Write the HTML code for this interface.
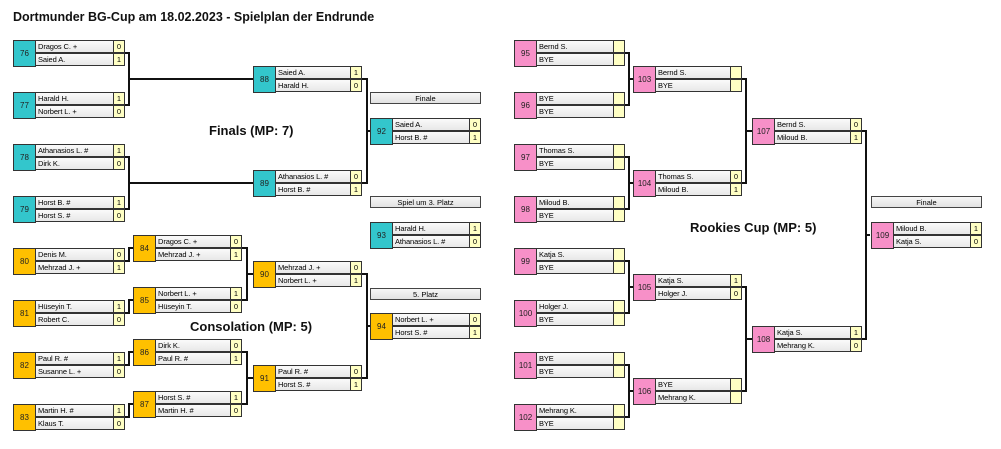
<!DOCTYPE html>
<html><head><meta charset="utf-8"><style>
body{margin:0;width:1001px;height:449px;background:#fff;position:relative;overflow:hidden;font-family:"Liberation Sans",sans-serif}
.m{position:absolute;height:26px}
.i{position:absolute;left:0;top:0;width:21px;height:25px;border:1px solid #333;font-size:8px;line-height:25px;text-align:center;color:#222}
.t{background:#33c6cc}.o{background:#ffc000}.p{background:#f790c8}
.n{position:absolute;height:12px;border:1px solid #333;background:linear-gradient(#fafafa,#e8e8e8);font-size:7.5px;line-height:12px;padding-left:2px;box-sizing:border-box;height:13px;white-space:nowrap;letter-spacing:-0.1px}
.s{position:absolute;height:13px;width:12px;border:1px solid #333;background:#ffffc4;font-size:7.5px;line-height:12px;text-align:center;box-sizing:border-box}
.lb{position:absolute;height:12px;border:1px solid #444;background:linear-gradient(#f6f6f6,#e2e2e2);font-size:7.5px;line-height:12px;text-align:center;box-sizing:border-box;width:111px}
.h{position:absolute;font-weight:bold;color:#111}
svg{position:absolute;left:0;top:0}
</style></head><body>
<div class="h" style="left:13px;top:10px;font-size:12.5px">Dortmunder BG-Cup am 18.02.2023 - Spielplan der Endrunde</div>
<div class="h" style="left:209px;top:123px;font-size:13px">Finals (MP: 7)</div>
<div class="h" style="left:190px;top:319px;font-size:13px">Consolation (MP: 5)</div>
<div class="h" style="left:690px;top:220px;font-size:13px">Rookies Cup (MP: 5)</div>
<svg width="1001" height="449"><g fill="none" stroke="#111" stroke-width="2">
<path d="M125 53H129V105H125M129 79H253"/>
<path d="M125 157H129V209H125M129 183H253"/>
<path d="M362 79H367V183H362M367 131H370"/>
<path d="M125 261H129V248H133M125 313H129V300H133M125 365H129V352H133M125 417H129V404H133"/>
<path d="M242 248H247V300H242M247 274H253M242 352H247V404H242M247 378H253"/>
<path d="M362 274H367V378H362M367 326H370"/>
<path d="M625 53H629V105H625M629 79H633M625 157H629V209H625M629 183H633M625 261H629V313H625M629 287H633M625 365H629V417H625M629 391H633"/>
<path d="M742 79H746V183H742M746 131H752M742 287H746V391H742M746 339H752"/>
<path d="M862 131H866V339H862M866 235H870"/>
</g></svg>

<!-- helper layout: id 22, name, score -->
<!-- Left round 1 -->
<div class="m" style="left:13px;top:40px"><div class="i t">76</div><div class="n" style="left:22px;top:0;width:79px">Dragos C. +</div><div class="s" style="left:100px;top:0">0</div><div class="n" style="left:22px;top:13px;width:79px">Saied A.</div><div class="s" style="left:100px;top:13px">1</div></div>
<div class="m" style="left:13px;top:92px"><div class="i t">77</div><div class="n" style="left:22px;top:0;width:79px">Harald H.</div><div class="s" style="left:100px;top:0">1</div><div class="n" style="left:22px;top:13px;width:79px">Norbert L. +</div><div class="s" style="left:100px;top:13px">0</div></div>
<div class="m" style="left:13px;top:144px"><div class="i t">78</div><div class="n" style="left:22px;top:0;width:79px">Athanasios L. #</div><div class="s" style="left:100px;top:0">1</div><div class="n" style="left:22px;top:13px;width:79px">Dirk K.</div><div class="s" style="left:100px;top:13px">0</div></div>
<div class="m" style="left:13px;top:196px"><div class="i t">79</div><div class="n" style="left:22px;top:0;width:79px">Horst B. #</div><div class="s" style="left:100px;top:0">1</div><div class="n" style="left:22px;top:13px;width:79px">Horst S. #</div><div class="s" style="left:100px;top:13px">0</div></div>
<div class="m" style="left:13px;top:248px"><div class="i o">80</div><div class="n" style="left:22px;top:0;width:79px">Denis M.</div><div class="s" style="left:100px;top:0">0</div><div class="n" style="left:22px;top:13px;width:79px">Mehrzad J. +</div><div class="s" style="left:100px;top:13px">1</div></div>
<div class="m" style="left:13px;top:300px"><div class="i o">81</div><div class="n" style="left:22px;top:0;width:79px">Hüseyin T.</div><div class="s" style="left:100px;top:0">1</div><div class="n" style="left:22px;top:13px;width:79px">Robert C.</div><div class="s" style="left:100px;top:13px">0</div></div>
<div class="m" style="left:13px;top:352px"><div class="i o">82</div><div class="n" style="left:22px;top:0;width:79px">Paul R. #</div><div class="s" style="left:100px;top:0">1</div><div class="n" style="left:22px;top:13px;width:79px">Susanne L. +</div><div class="s" style="left:100px;top:13px">0</div></div>
<div class="m" style="left:13px;top:404px"><div class="i o">83</div><div class="n" style="left:22px;top:0;width:79px">Martin H. #</div><div class="s" style="left:100px;top:0">1</div><div class="n" style="left:22px;top:13px;width:79px">Klaus T.</div><div class="s" style="left:100px;top:13px">0</div></div>
<!-- consolation r2 -->
<div class="m" style="left:133px;top:235px"><div class="i o">84</div><div class="n" style="left:22px;top:0;width:76px">Dragos C. +</div><div class="s" style="left:97px;top:0">0</div><div class="n" style="left:22px;top:13px;width:76px">Mehrzad J. +</div><div class="s" style="left:97px;top:13px">1</div></div>
<div class="m" style="left:133px;top:287px"><div class="i o">85</div><div class="n" style="left:22px;top:0;width:76px">Norbert L. +</div><div class="s" style="left:97px;top:0">1</div><div class="n" style="left:22px;top:13px;width:76px">Hüseyin T.</div><div class="s" style="left:97px;top:13px">0</div></div>
<div class="m" style="left:133px;top:339px"><div class="i o">86</div><div class="n" style="left:22px;top:0;width:76px">Dirk K.</div><div class="s" style="left:97px;top:0">0</div><div class="n" style="left:22px;top:13px;width:76px">Paul R. #</div><div class="s" style="left:97px;top:13px">1</div></div>
<div class="m" style="left:133px;top:391px"><div class="i o">87</div><div class="n" style="left:22px;top:0;width:76px">Horst S. #</div><div class="s" style="left:97px;top:0">1</div><div class="n" style="left:22px;top:13px;width:76px">Martin H. #</div><div class="s" style="left:97px;top:13px">0</div></div>
<!-- col 3 -->
<div class="m" style="left:253px;top:66px"><div class="i t">88</div><div class="n" style="left:22px;top:0;width:76px">Saied A.</div><div class="s" style="left:97px;top:0">1</div><div class="n" style="left:22px;top:13px;width:76px">Harald H.</div><div class="s" style="left:97px;top:13px">0</div></div>
<div class="m" style="left:253px;top:170px"><div class="i t">89</div><div class="n" style="left:22px;top:0;width:76px">Athanasios L. #</div><div class="s" style="left:97px;top:0">0</div><div class="n" style="left:22px;top:13px;width:76px">Horst B. #</div><div class="s" style="left:97px;top:13px">1</div></div>
<div class="m" style="left:253px;top:261px"><div class="i o">90</div><div class="n" style="left:22px;top:0;width:76px">Mehrzad J. +</div><div class="s" style="left:97px;top:0">0</div><div class="n" style="left:22px;top:13px;width:76px">Norbert L. +</div><div class="s" style="left:97px;top:13px">1</div></div>
<div class="m" style="left:253px;top:365px"><div class="i o">91</div><div class="n" style="left:22px;top:0;width:76px">Paul R. #</div><div class="s" style="left:97px;top:0">0</div><div class="n" style="left:22px;top:13px;width:76px">Horst S. #</div><div class="s" style="left:97px;top:13px">1</div></div>
<!-- col 4 -->
<div class="lb" style="left:370px;top:92px">Finale</div>
<div class="lb" style="left:370px;top:196px">Spiel um 3. Platz</div>
<div class="lb" style="left:370px;top:288px">5. Platz</div>
<div class="m" style="left:370px;top:118px"><div class="i t">92</div><div class="n" style="left:22px;top:0;width:78px">Saied A.</div><div class="s" style="left:99px;top:0">0</div><div class="n" style="left:22px;top:13px;width:78px">Horst B. #</div><div class="s" style="left:99px;top:13px">1</div></div>
<div class="m" style="left:370px;top:222px"><div class="i t">93</div><div class="n" style="left:22px;top:0;width:78px">Harald H.</div><div class="s" style="left:99px;top:0">1</div><div class="n" style="left:22px;top:13px;width:78px">Athanasios L. #</div><div class="s" style="left:99px;top:13px">0</div></div>
<div class="m" style="left:370px;top:313px"><div class="i o">94</div><div class="n" style="left:22px;top:0;width:78px">Norbert L. +</div><div class="s" style="left:99px;top:0">0</div><div class="n" style="left:22px;top:13px;width:78px">Horst S. #</div><div class="s" style="left:99px;top:13px">1</div></div>

<!-- Right bracket round 1 -->
<div class="m" style="left:514px;top:40px"><div class="i p">95</div><div class="n" style="left:22px;top:0;width:78px">Bernd S.</div><div class="s" style="left:99px;top:0"></div><div class="n" style="left:22px;top:13px;width:78px">BYE</div><div class="s" style="left:99px;top:13px"></div></div>
<div class="m" style="left:514px;top:92px"><div class="i p">96</div><div class="n" style="left:22px;top:0;width:78px">BYE</div><div class="s" style="left:99px;top:0"></div><div class="n" style="left:22px;top:13px;width:78px">BYE</div><div class="s" style="left:99px;top:13px"></div></div>
<div class="m" style="left:514px;top:144px"><div class="i p">97</div><div class="n" style="left:22px;top:0;width:78px">Thomas S.</div><div class="s" style="left:99px;top:0"></div><div class="n" style="left:22px;top:13px;width:78px">BYE</div><div class="s" style="left:99px;top:13px"></div></div>
<div class="m" style="left:514px;top:196px"><div class="i p">98</div><div class="n" style="left:22px;top:0;width:78px">Miloud B.</div><div class="s" style="left:99px;top:0"></div><div class="n" style="left:22px;top:13px;width:78px">BYE</div><div class="s" style="left:99px;top:13px"></div></div>
<div class="m" style="left:514px;top:248px"><div class="i p">99</div><div class="n" style="left:22px;top:0;width:78px">Katja S.</div><div class="s" style="left:99px;top:0"></div><div class="n" style="left:22px;top:13px;width:78px">BYE</div><div class="s" style="left:99px;top:13px"></div></div>
<div class="m" style="left:514px;top:300px"><div class="i p">100</div><div class="n" style="left:22px;top:0;width:78px">Holger J.</div><div class="s" style="left:99px;top:0"></div><div class="n" style="left:22px;top:13px;width:78px">BYE</div><div class="s" style="left:99px;top:13px"></div></div>
<div class="m" style="left:514px;top:352px"><div class="i p">101</div><div class="n" style="left:22px;top:0;width:78px">BYE</div><div class="s" style="left:99px;top:0"></div><div class="n" style="left:22px;top:13px;width:78px">BYE</div><div class="s" style="left:99px;top:13px"></div></div>
<div class="m" style="left:514px;top:404px"><div class="i p">102</div><div class="n" style="left:22px;top:0;width:78px">Mehrang K.</div><div class="s" style="left:99px;top:0"></div><div class="n" style="left:22px;top:13px;width:78px">BYE</div><div class="s" style="left:99px;top:13px"></div></div>
<!-- round 2 -->
<div class="m" style="left:633px;top:66px"><div class="i p">103</div><div class="n" style="left:22px;top:0;width:76px">Bernd S.</div><div class="s" style="left:97px;top:0"></div><div class="n" style="left:22px;top:13px;width:76px">BYE</div><div class="s" style="left:97px;top:13px"></div></div>
<div class="m" style="left:633px;top:170px"><div class="i p">104</div><div class="n" style="left:22px;top:0;width:76px">Thomas S.</div><div class="s" style="left:97px;top:0">0</div><div class="n" style="left:22px;top:13px;width:76px">Miloud B.</div><div class="s" style="left:97px;top:13px">1</div></div>
<div class="m" style="left:633px;top:274px"><div class="i p">105</div><div class="n" style="left:22px;top:0;width:76px">Katja S.</div><div class="s" style="left:97px;top:0">1</div><div class="n" style="left:22px;top:13px;width:76px">Holger J.</div><div class="s" style="left:97px;top:13px">0</div></div>
<div class="m" style="left:633px;top:378px"><div class="i p">106</div><div class="n" style="left:22px;top:0;width:76px">BYE</div><div class="s" style="left:97px;top:0"></div><div class="n" style="left:22px;top:13px;width:76px">Mehrang K.</div><div class="s" style="left:97px;top:13px"></div></div>
<!-- round 3 -->
<div class="m" style="left:752px;top:118px"><div class="i p">107</div><div class="n" style="left:22px;top:0;width:77px">Bernd S.</div><div class="s" style="left:98px;top:0">0</div><div class="n" style="left:22px;top:13px;width:77px">Miloud B.</div><div class="s" style="left:98px;top:13px">1</div></div>
<div class="m" style="left:752px;top:326px"><div class="i p">108</div><div class="n" style="left:22px;top:0;width:77px">Katja S.</div><div class="s" style="left:98px;top:0">1</div><div class="n" style="left:22px;top:13px;width:77px">Mehrang K.</div><div class="s" style="left:98px;top:13px">0</div></div>
<!-- final -->
<div class="lb" style="left:871px;top:196px">Finale</div>
<div class="m" style="left:871px;top:222px"><div class="i p">109</div><div class="n" style="left:22px;top:0;width:78px">Miloud B.</div><div class="s" style="left:99px;top:0">1</div><div class="n" style="left:22px;top:13px;width:78px">Katja S.</div><div class="s" style="left:99px;top:13px">0</div></div>
</body></html>
